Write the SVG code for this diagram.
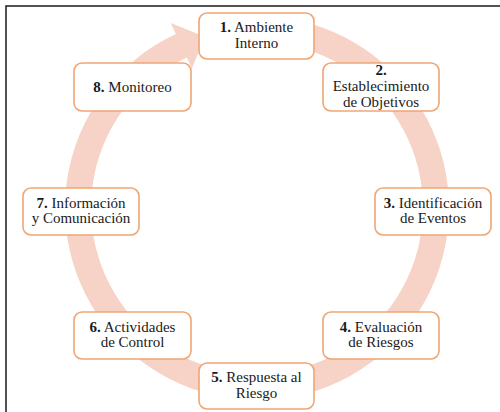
<svg xmlns="http://www.w3.org/2000/svg" width="500" height="412" viewBox="0 0 500 412">
<style>
.box{fill:#ffffff;stroke:#EFA674;stroke-width:1.6}
text{font-family:'Liberation Serif','Times New Roman',Times,serif;font-size:15px;fill:#1a1a1a;text-anchor:middle}
.b{font-weight:bold}
</style>
<rect x="0" y="0" width="500" height="412" fill="#ffffff"/>
<path d="M6 412 V6 H500" fill="none" stroke="#1a1a1a" stroke-width="1.5"/>
<g id="connectors">
<path d="M240.27 16.73 A192 192 0 1 1 175.86 33.99 L170.79 23.11 L204.67 36.82 L191.92 68.43 L186.85 57.55 A166 166 0 1 0 242.53 42.63 Z" fill="#F6D3C6"/>
</g>
<g font-family="Liberation Serif, serif">
<g id="n1"><rect class="box" x="199" y="13" width="115" height="46" rx="8"/><text x="256.5" y="32"><tspan class="b">1.</tspan> Ambiente</text><text x="256.5" y="47.5">Interno</text></g>
<g id="n2"><rect class="box" x="323" y="63" width="116" height="48" rx="8"/><text class="b" x="381" y="75">2.</text><text x="381" y="91">Establecimiento</text><text x="381" y="106.5">de Objetivos</text></g>
<g id="n3"><rect class="box" x="375" y="188" width="116" height="47" rx="8"/><text x="433" y="207.5"><tspan class="b">3.</tspan> Identificación</text><text x="433" y="223">de Eventos</text></g>
<g id="n4"><rect class="box" x="323" y="312" width="116" height="47" rx="8"/><text x="381" y="331.5"><tspan class="b">4.</tspan> Evaluación</text><text x="381" y="347">de Riesgos</text></g>
<g id="n5"><rect class="box" x="199" y="363" width="115" height="46" rx="8"/><text x="256.5" y="382"><tspan class="b">5.</tspan> Respuesta al</text><text x="256.5" y="397.5">Riesgo</text></g>
<g id="n6"><rect class="box" x="74" y="312" width="117" height="47" rx="8"/><text x="132.5" y="331.5"><tspan class="b">6.</tspan> Actividades</text><text x="132.5" y="347">de Control</text></g>
<g id="n7"><rect class="box" x="23" y="188" width="116" height="47" rx="8"/><text x="81" y="207.5"><tspan class="b">7.</tspan> Información</text><text x="81" y="223">y Comunicación</text></g>
<g id="n8"><rect class="box" x="74" y="63" width="117" height="48" rx="8"/><text x="132.5" y="91.5"><tspan class="b">8.</tspan> Monitoreo</text></g>
</g>
</svg>
